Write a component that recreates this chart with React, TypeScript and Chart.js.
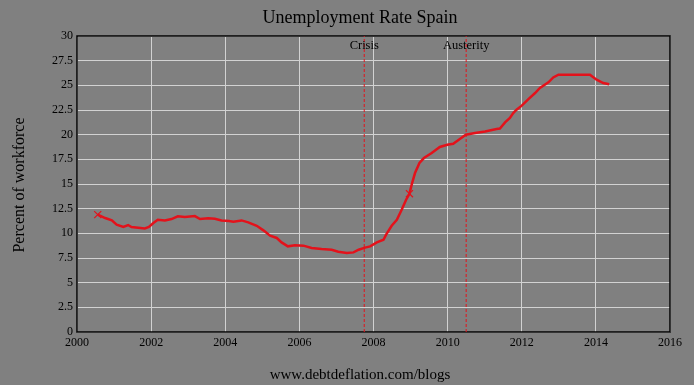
import React, { useEffect, useRef } from "react";
import { Chart, registerables } from "chart.js";

Chart.register(...registerables);

const TITLE = "Unemployment Rate Spain";
const Y_TITLE = "Percent of workforce";
const FOOTER = "www.debtdeflation.com/blogs";

const YEARS = [
  2000.56, 2000.76, 2000.94, 2001.07, 2001.25, 2001.38, 2001.47, 2001.65, 2001.83, 2001.94,
  2002.06, 2002.18, 2002.37, 2002.55, 2002.72, 2002.91, 2003.18, 2003.32, 2003.54, 2003.72,
  2003.9, 2004.1, 2004.22, 2004.44, 2004.62, 2004.85, 2005.03, 2005.21, 2005.39, 2005.52,
  2005.69, 2005.88, 2006.11, 2006.33, 2006.6, 2006.87, 2007.05, 2007.28, 2007.46, 2007.6,
  2007.77, 2007.91, 2008.09, 2008.27, 2008.34, 2008.49, 2008.63, 2008.76, 2008.88, 2008.97,
  2009.03, 2009.12, 2009.24, 2009.36, 2009.57, 2009.79, 2009.99, 2010.15, 2010.33, 2010.49,
  2010.74, 2011.01, 2011.32, 2011.41, 2011.55, 2011.68, 2011.77, 2011.86, 2012.0, 2012.18,
  2012.36, 2012.49, 2012.72, 2012.85, 2012.99, 2013.4, 2013.84, 2014.02, 2014.2, 2014.36,
];

const RATES = [
  11.9, 11.55, 11.31, 10.87, 10.64, 10.84, 10.64, 10.57, 10.5, 10.64,
  11.05, 11.38, 11.31, 11.45, 11.72, 11.65, 11.75, 11.45, 11.52, 11.48,
  11.31, 11.25, 11.18, 11.31, 11.11, 10.77, 10.3, 9.76, 9.53, 9.08,
  8.68, 8.78, 8.75, 8.51, 8.41, 8.34, 8.14, 8.0, 8.07, 8.34,
  8.55, 8.68, 9.08, 9.35, 9.86, 10.77, 11.38, 12.39, 13.41, 14.02,
  14.93, 16.11, 17.13, 17.63, 18.14, 18.75, 18.98, 19.08, 19.56, 20.0,
  20.17, 20.33, 20.57, 20.62, 21.24, 21.69, 22.19, 22.53, 22.94, 23.61,
  24.22, 24.73, 25.3, 25.8, 26.08, 26.08, 26.08, 25.57, 25.23, 25.1,
];

const MARKER_YEARS = [2000.56, 2008.97];
const MARKER_RATES = [11.9, 14.02];

const EVENT_NAMES = ["Crisis", "Austerity"];
const EVENT_YEARS = [2007.75, 2010.5];

const X_MIN = 2000;
const X_MAX = 2016;
const X_STEP = 2;
const Y_MIN = 0;
const Y_MAX = 30;
const Y_STEP = 2.5;

const RED = "#e3121b";
const SERIF = '"Liberation Serif", "Times New Roman", serif';

const framePlugin = {
  id: "frame",
  beforeDatasetsDraw(chart: any) {
    const { ctx, chartArea } = chart;
    ctx.save();
    ctx.strokeStyle = "#000";
    ctx.lineWidth = 1.5;
    ctx.strokeRect(chartArea.left, chartArea.top, chartArea.right - chartArea.left, chartArea.bottom - chartArea.top);
    ctx.restore();
  },
};

const textPlugin = {
  id: "texts",
  afterDraw(chart: any) {
    const { ctx } = chart;
    const xs = chart.scales.x;
    const ys = chart.scales.y;
    ctx.save();
    ctx.fillStyle = "#000";
    ctx.textAlign = "center";
    ctx.textBaseline = "alphabetic";
    ctx.font = `18px ${SERIF}`;
    ctx.fillText(TITLE, 360, 23);
    ctx.font = `15px ${SERIF}`;
    ctx.fillText(FOOTER, 360, 379);
    ctx.save();
    ctx.translate(24, 185);
    ctx.rotate(-Math.PI / 2);
    ctx.font = `16px ${SERIF}`;
    ctx.fillText(Y_TITLE, 0, 0);
    ctx.restore();
    ctx.font = `12.5px ${SERIF}`;
    const labelY = ys.getPixelForValue(Y_MAX) + 13;
    EVENT_NAMES.forEach((name, i) => {
      ctx.fillText(name, xs.getPixelForValue(EVENT_YEARS[i]), labelY);
    });
    ctx.restore();
  },
};

export default function App() {
  const ref = useRef<HTMLCanvasElement | null>(null);

  useEffect(() => {
    if (!ref.current) return;
    const series = YEARS.map((x, i) => ({ x, y: RATES[i] }));
    const markers = MARKER_YEARS.map((x, i) => ({ x, y: MARKER_RATES[i] }));
    const eventSets = EVENT_YEARS.map((yr) => ({
      data: [
        { x: yr, y: Y_MIN },
        { x: yr, y: Y_MAX },
      ],
      showLine: true,
      borderColor: RED,
      borderWidth: 1,
      borderDash: [3, 2],
      pointRadius: 0,
    }));
    const chart = new Chart(ref.current, {
      type: "scatter",
      data: {
        datasets: [
          ...eventSets,
          {
            data: series,
            showLine: true,
            borderColor: RED,
            borderWidth: 2.5,
            pointRadius: 0,
            tension: 0,
          },
          {
            data: markers,
            showLine: false,
            pointStyle: "crossRot",
            pointRadius: 5,
            borderColor: RED,
            borderWidth: 1.2,
          },
        ] as any,
      },
      options: {
        animation: false,
        responsive: false,
        devicePixelRatio: 1,
        layout: { padding: { top: 36, right: 24, left: 0, bottom: 0 } },
        plugins: {
          legend: { display: false },
          tooltip: { enabled: false },
          title: { display: false },
        },
        scales: {
          x: {
            type: "linear",
            min: X_MIN,
            max: X_MAX,
            border: { display: false },
            grid: { color: "#d2d2d2", lineWidth: 1, drawTicks: false },
            ticks: {
              stepSize: X_STEP,
              padding: 4,
              color: "#000",
              font: { family: SERIF, size: 12 },
              callback: (v: any) => String(v),
              maxRotation: 0,
            },
            afterFit: (s: any) => {
              s.height = 53;
            },
          },
          y: {
            type: "linear",
            min: Y_MIN,
            max: Y_MAX,
            border: { display: false },
            grid: { color: "#d2d2d2", lineWidth: 1, drawTicks: false },
            ticks: {
              stepSize: Y_STEP,
              padding: 4,
              color: "#000",
              font: { family: SERIF, size: 12 },
              callback: (v: any) => String(v),
            },
            afterFit: (s: any) => {
              s.width = 77;
            },
          },
        },
      } as any,
      plugins: [framePlugin, textPlugin],
    });
    return () => chart.destroy();
  }, []);

  return (
    <div style={{ position: "fixed", left: 0, top: 0, width: 694, height: 385, background: "#808080" }}>
      <canvas ref={ref} width={694} height={385} style={{ width: 694, height: 385, display: "block" }} />
    </div>
  );
}
